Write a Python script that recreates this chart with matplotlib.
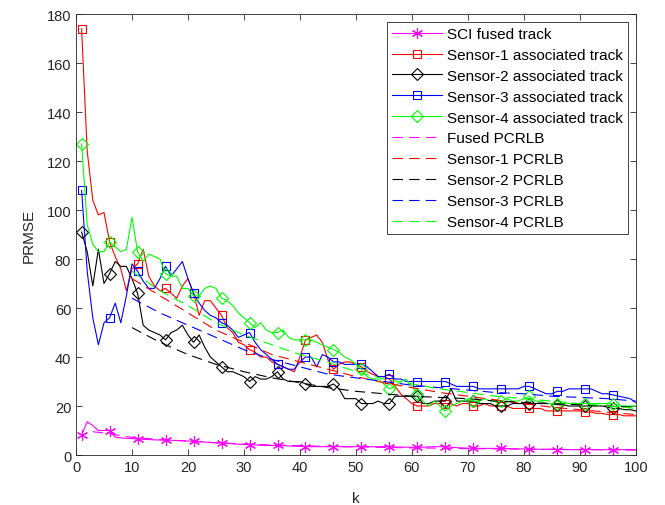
import numpy as np
import matplotlib
matplotlib.use("Agg")
import matplotlib.pyplot as plt

plt.rcParams['font.family'] = ['Liberation Sans', 'DejaVu Sans']
plt.rcParams['lines.scale_dashes'] = False

# time steps
k = np.arange(1, 101)

# tracks
sci = [8.2, 13.6, 12, 10, 10, 10, 7.3, 7, 6.8, 6.7,
       6.5, 6.4, 6.3, 6.2, 6.1, 6.1, 6.0, 5.9, 5.8, 5.7,
       5.6, 5.5, 5.3, 5.1, 5.0, 4.9, 4.8, 4.6, 4.4, 4.3,
       4.2, 4.1, 4.0, 3.9, 3.9, 3.9, 3.8, 3.7, 3.6, 3.5,
       3.4, 3.4, 3.4, 3.4, 3.4, 3.4, 3.4, 3.4, 3.4, 3.4,
       3.4, 3.4, 3.4, 3.4, 3.4, 3.4, 3.3, 3.2, 3.2, 3.1,
       3.1, 3.2, 3.3, 3.4, 3.4, 3.4, 3.2, 3.0, 2.9, 2.8,
       2.7, 2.7, 2.7, 2.7, 2.7, 2.7, 2.6, 2.6, 2.5, 2.5,
       2.4, 2.4, 2.3, 2.3, 2.3, 2.2, 2.2, 2.2, 2.2, 2.2,
       2.2, 2.2, 2.2, 2.2, 2.2, 2.2, 2.2, 2.2, 2.2, 2.2]
s1 = [174, 124, 104, 98, 99, 87, 81, 76, 67, 76,
      78, 84, 73, 69, 67, 68, 66, 64, 69, 72,
      66, 57, 63, 63, 60, 57, 52, 50, 46, 45,
      43, 42, 40, 40, 38, 37, 36, 35, 34, 40,
      47, 48, 49, 46, 39, 35, 37, 38, 38, 37,
      36, 34, 33, 32, 32, 31, 28, 25, 23, 21,
      20, 20, 20, 21, 21, 21, 21, 20, 21, 21,
      20, 20, 21, 20, 20, 20, 20, 19, 19, 19,
      19, 19, 19, 18, 18, 18, 18, 18, 18, 18,
      17.5, 17.5, 17, 17, 16.5, 16.5, 16.5, 16, 16, 16]
s2 = [91, 83, 69, 84, 70, 74, 79, 77, 77, 72,
      66, 53, 51, 50, 49, 47, 50, 51, 53, 49,
      46, 49, 44, 40, 38, 36, 34, 34, 33, 32,
      30, 32, 31, 31, 32, 34, 31, 30, 30, 30,
      29, 28, 28, 28, 28, 29, 27, 23, 23, 23,
      21, 21, 21, 22, 21, 21, 24, 24, 24, 24,
      24, 21, 21, 22, 22, 22, 27, 22, 22, 22,
      22, 21, 21, 21, 20, 20, 20, 21, 21, 21,
      21, 21, 21, 21, 21, 20.5, 20.5, 20, 20, 20,
      20, 20, 20, 20, 19.5, 19, 19, 18.5, 18.5, 18]
s3 = [108, 75, 56, 45, 54, 56, 62, 54, 65, 78,
      75, 71, 68, 68, 72, 77, 73, 76, 79, 72,
      66, 62, 59, 57, 56, 54, 53, 51, 48, 49,
      50, 46, 43, 41, 39, 37, 36, 35, 35, 38,
      40, 40, 36, 41, 40, 38, 38, 37, 37, 37,
      37, 36, 34, 32, 32, 33, 31, 31, 30, 30,
      30, 30, 30, 30, 30, 30, 29, 28, 28, 28,
      28, 27, 27, 27, 27, 27, 27, 27, 27, 28,
      28, 27, 26, 25, 25, 26, 26, 27, 27, 27,
      27, 27, 26, 25, 25, 24.5, 24, 23.5, 23, 21.5]
s4 = [127, 94, 86, 83, 83, 87, 85, 83, 84, 97,
      83, 79, 82, 81, 80, 74, 73, 73, 68, 68,
      65, 65, 68, 69, 68, 64, 63, 61, 58, 56,
      54, 52, 54, 51, 50, 50, 51, 48, 47, 47,
      47, 47, 46, 45, 44, 43, 42, 40, 39, 37,
      35, 32, 31, 31, 29, 27, 28, 30, 31, 28,
      25, 22, 20, 22, 20, 18, 20, 21, 22, 23,
      22, 22, 23, 22, 22, 22, 23, 22, 22, 23,
      24, 22, 22, 21, 21, 21, 21, 21, 21, 21,
      21, 21, 21, 21, 21, 21, 20, 20, 20, 20]

# PCRLB curves (read every 5 steps)
k_fused = [3, 5, 10, 15, 20, 25, 30, 35, 40, 45, 50, 55, 60, 65, 70, 75, 80, 85, 90, 95, 100]
fused_lb = [9.5, 9.0, 7.2, 6.3, 5.7, 5.0, 4.5, 4.1, 3.8, 3.5, 3.3, 3.1, 2.9, 2.8, 2.6, 2.5, 2.4, 2.3, 2.2, 2.1, 2.0]
k_lb = [10, 15, 20, 25, 30, 35, 40, 45, 50, 55, 60, 65, 70, 75, 80, 85, 90, 95, 100]
s1_lb = [72, 65, 58, 51, 46, 41, 38, 35, 32, 29.5, 27.5, 25.5, 24, 22.5, 21, 19.5, 18.5, 17.5, 16.5]
s2_lb = [52, 46, 41, 37, 34, 31.5, 29.5, 27.5, 26, 25, 24, 23.5, 23, 22, 21.5, 21, 20.5, 20, 19.5]
s3_lb = [64, 58, 53, 48, 43, 39, 36, 33, 31.5, 30, 28.5, 27.5, 26.5, 25.5, 25, 24, 23.5, 23, 22]
s4_lb = [75, 67, 61, 54, 49, 45, 41, 38, 34, 31, 29, 27, 25.5, 24, 23, 22, 21, 20, 19]

mag, red, blk, blu, grn = '#ff00ff', '#ff0000', '#000000', '#0000ff', '#00ff00'

fig = plt.figure(figsize=(6.65, 5.06), dpi=100)
ax = fig.add_axes([0.1143, 0.0988, 0.8417, 0.8715])

lw = 0.8
me = (0, 5)
ax.plot(k, sci, color=mag, lw=lw, marker=(6, 2, 0), ms=8, mew=0.8, markevery=me, label='SCI fused track')
ax.plot(k, s1, color=red, lw=lw, marker='s', ms=6, mfc='none', mew=0.8, markevery=me, label='Sensor-1 associated track')
ax.plot(k, s2, color=blk, lw=lw, marker='D', ms=6.5, mfc='none', mew=0.8, markevery=me, label='Sensor-2 associated track')
ax.plot(k, s3, color=blu, lw=lw, marker='s', ms=6, mfc='none', mew=0.8, markevery=me, label='Sensor-3 associated track')
ax.plot(k, s4, color=grn, lw=lw, marker='D', ms=6.5, mfc='none', mew=0.8, markevery=me, label='Sensor-4 associated track')

dash = (0, (7.5, 4.5))
ax.plot(k_fused, fused_lb, color=mag, lw=lw, ls=dash, label='Fused PCRLB')
ax.plot(k_lb, s1_lb, color=red, lw=lw, ls=dash, label='Sensor-1 PCRLB')
ax.plot(k_lb, s2_lb, color=blk, lw=lw, ls=dash, label='Sensor-2 PCRLB')
ax.plot(k_lb, s3_lb, color=blu, lw=lw, ls=dash, label='Sensor-3 PCRLB')
ax.plot(k_lb, s4_lb, color=grn, lw=lw, ls=dash, label='Sensor-4 PCRLB')

ax.set_xlim(0, 100)
ax.set_ylim(0, 180)
ax.set_xticks(np.arange(0, 101, 10))
ax.set_yticks(np.arange(0, 181, 20))
ax.tick_params(direction='in', top=True, right=True, labelsize=10.5, colors='#262626', length=4, width=0.6)
for s in ax.spines.values():
    s.set_color('#262626')
    s.set_linewidth(0.6)
ax.set_xlabel('k', fontsize=11, color='#262626', labelpad=12)
ax.set_ylabel('PRMSE', fontsize=11, color='#262626', labelpad=8)

leg = ax.legend(loc='upper right', fontsize=11, handlelength=3.25, handletextpad=0.35,
                labelspacing=0.45, borderpad=0.35, borderaxespad=0.5, fancybox=False,
                framealpha=1, edgecolor='#262626')
leg.get_frame().set_linewidth(0.6)

fig.savefig('out.png', dpi=100)
